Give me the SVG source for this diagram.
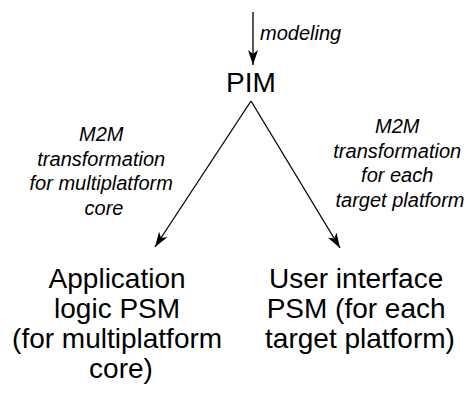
<svg xmlns="http://www.w3.org/2000/svg" width="470" height="397" viewBox="0 0 470 397">
  <style>
    .node { font-family: "Liberation Sans", Arial, sans-serif; font-size: 28px; fill: #000; text-anchor: middle; }
    .label { font-family: "Liberation Sans", Arial, sans-serif; font-size: 20px; font-style: italic; fill: #000; text-anchor: middle; }
    .edge { stroke: #000; stroke-width: 1.3; fill: none; marker-end: url(#head); }
  </style>
  <defs>
    <!-- notched arrowhead, tip at the end of the line -->
    <marker id="head" markerUnits="userSpaceOnUse" markerWidth="20" markerHeight="14" viewBox="-16 -7 20 14" refX="0" refY="0" orient="auto">
      <path d="M0,0 L-15,-5 L-11,0 L-15,5 Z" fill="#000"/>
    </marker>
  </defs>
  <rect width="470" height="397" fill="#fff"/>

  <g id="connectors">
    <line class="edge" x1="253" y1="12" x2="253" y2="65"/>
    <line class="edge" x1="251" y1="101" x2="155" y2="247"/>
    <line class="edge" x1="251" y1="101" x2="340" y2="248"/>
  </g>

  <g id="edge-labels">
    <text class="label" x="260" y="40" style="text-anchor:start">modeling</text>
    <text class="label">
      <tspan x="104" y="141">M2M</tspan>
      <tspan x="104" y="165.5">transformation</tspan>
      <tspan x="104" y="190">for multiplatform</tspan>
      <tspan x="104" y="214.5">core</tspan>
    </text>
    <text class="label">
      <tspan x="400" y="133">M2M</tspan>
      <tspan x="400" y="157.5">transformation</tspan>
      <tspan x="400" y="182">for each</tspan>
      <tspan x="400" y="206.5">target platform</tspan>
    </text>
  </g>

  <g id="pim">
    <text class="node" x="251" y="92">PIM</text>
  </g>

  <g id="app-logic-psm">
    <text class="node">
      <tspan x="121" y="288">Application</tspan>
      <tspan x="121" y="318">logic PSM</tspan>
      <tspan x="121" y="348">(for multiplatform</tspan>
      <tspan x="121" y="378">core)</tspan>
    </text>
  </g>

  <g id="ui-psm">
    <text class="node">
      <tspan x="360" y="288">User interface</tspan>
      <tspan x="360" y="318">PSM (for each</tspan>
      <tspan x="360" y="348">target platform)</tspan>
    </text>
  </g>
</svg>
